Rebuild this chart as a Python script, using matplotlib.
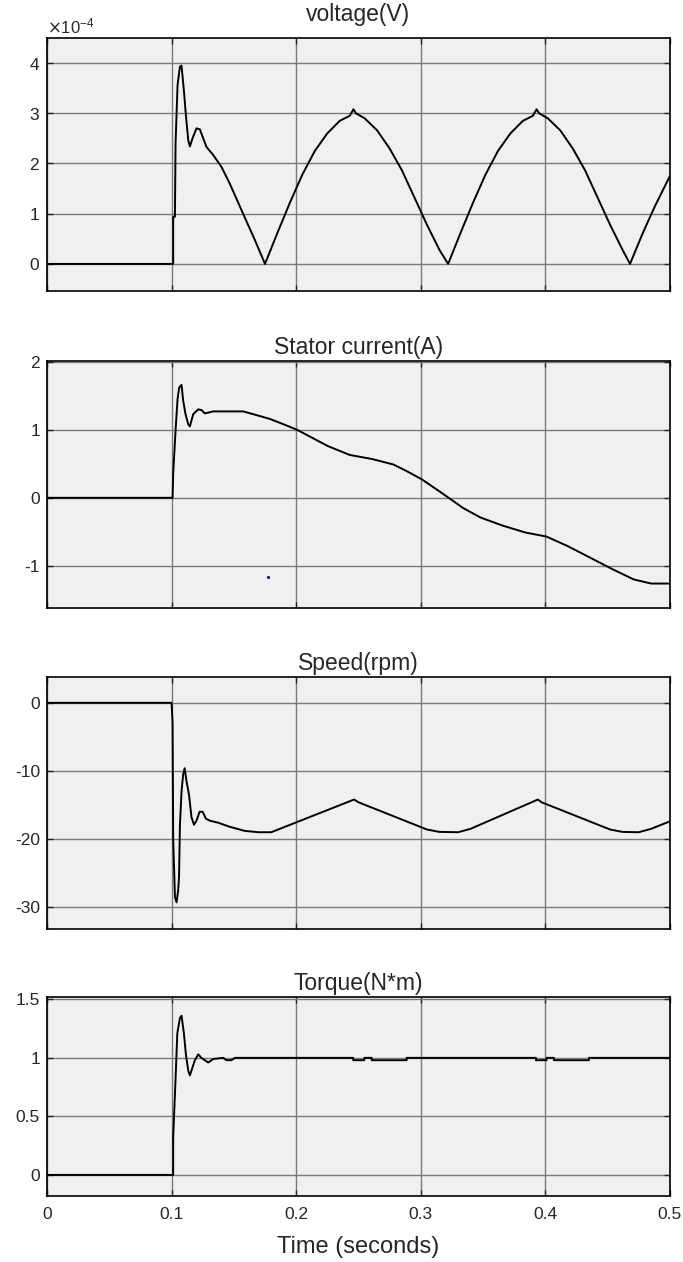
import matplotlib
matplotlib.use('Agg')
import matplotlib.pyplot as plt
from matplotlib.ticker import FuncFormatter, ScalarFormatter

plt.rcParams['font.family'] = ['Liberation Sans', 'DejaVu Sans']
plt.rcParams['axes.unicode_minus'] = False

# voltage, in units of 1e-4 V
t_volt = [0, 0.1013, 0.1013, 0.1027, 0.1032, 0.1048, 0.1067, 0.1080, 0.1099, 0.1115,
          0.1134, 0.1147, 0.1168, 0.1200, 0.1227, 0.1280, 0.1334, 0.1401, 0.1467,
          0.1574, 0.1668, 0.1750,
          0.185, 0.195, 0.205, 0.215, 0.225, 0.235, 0.243, 0.246, 0.248, 0.255,
          0.265, 0.275, 0.285, 0.295, 0.305, 0.315, 0.322,
          0.332, 0.342, 0.352, 0.362, 0.372, 0.382, 0.390, 0.393, 0.395, 0.402,
          0.412, 0.422, 0.432, 0.442, 0.452, 0.462, 0.468,
          0.478, 0.488, 0.5]
volt = [0, 0, 0.94, 0.94, 2.4, 3.56, 3.93, 3.95, 3.45, 2.96,
        2.46, 2.34, 2.5, 2.7, 2.68, 2.33, 2.17, 1.93, 1.6,
        1.0, 0.48, 0,
        0.62, 1.22, 1.78, 2.25, 2.6, 2.85, 2.95, 3.08, 3.0, 2.9,
        2.66, 2.3, 1.86, 1.32, 0.78, 0.28, 0,
        0.62, 1.22, 1.78, 2.25, 2.6, 2.85, 2.95, 3.08, 3.0, 2.9,
        2.66, 2.3, 1.86, 1.32, 0.78, 0.28, 0,
        0.6, 1.15, 1.75]

# stator current (A)
t_cur = [0, 0.1008, 0.1013, 0.1032, 0.1048, 0.1061, 0.1080, 0.1093, 0.1112, 0.1134,
         0.1147, 0.1174, 0.1214, 0.1240, 0.1267, 0.1334, 0.1574, 0.1654, 0.1788,
         0.19, 0.2007, 0.2255, 0.243, 0.261, 0.278, 0.289, 0.301, 0.313, 0.324,
         0.334, 0.348, 0.366, 0.384, 0.401, 0.418, 0.436, 0.454, 0.471, 0.485, 0.5]
cur = [0, 0, 0.35, 0.99, 1.45, 1.62, 1.66, 1.43, 1.23, 1.08,
       1.05, 1.23, 1.3, 1.29, 1.24, 1.27, 1.27, 1.23, 1.16,
       1.08, 1.0, 0.76, 0.63, 0.57, 0.49, 0.39, 0.27, 0.12, -0.02,
       -0.15, -0.29, -0.41, -0.51, -0.57, -0.71, -0.88, -1.05, -1.2, -1.26, -1.26]
dot_t = [0.1774]
dot_cur = [-1.16]

# speed (rpm)
t_spd = [0, 0.1, 0.1008, 0.1013, 0.1027, 0.1040, 0.1053, 0.1060, 0.1067, 0.1080,
         0.1093, 0.1105, 0.1120, 0.1140, 0.1160, 0.1180, 0.1200, 0.1225, 0.1250,
         0.1275, 0.1307, 0.1374, 0.1467, 0.1587, 0.17, 0.18,
         0.2465, 0.25, 0.305, 0.315, 0.33, 0.34,
         0.394, 0.397, 0.452, 0.462, 0.475, 0.485, 0.5]
spd = [0, 0, -2.9, -20, -28.5, -29.3, -27.5, -25.5, -18, -13,
       -10.5, -9.6, -11.5, -13.5, -16.8, -17.9, -17.3, -16.0, -16.0,
       -17.0, -17.3, -17.6, -18.2, -18.8, -19.0, -19.0,
       -14.2, -14.6, -18.6, -18.95, -19.0, -18.5,
       -14.2, -14.6, -18.6, -18.95, -19.0, -18.5, -17.4]

# torque (N*m)
t_trq = [0, 0.1013, 0.1013, 0.1032, 0.1046, 0.1067, 0.1080, 0.1099, 0.1115, 0.1134,
         0.1147, 0.1187, 0.1214, 0.1240, 0.1294, 0.1334, 0.1414, 0.1441, 0.1481,
         0.1508, 0.2458, 0.2458, 0.2547, 0.2547, 0.2606, 0.2606, 0.2887, 0.2887,
         0.3925, 0.3925, 0.401, 0.401, 0.4069, 0.4069, 0.435, 0.435, 0.5]
trq = [0, 0, 0.32, 0.82, 1.21, 1.34, 1.36, 1.21, 1.03, 0.89,
       0.85, 0.98, 1.03, 1.0, 0.96, 0.99, 1.0, 0.98, 0.98,
       1.0, 1.0, 0.98, 0.98, 1.0, 1.0, 0.98, 0.98, 1.0,
       1.0, 0.98, 0.98, 1.0, 1.0, 0.98, 0.98, 1.0, 1.0]

titles = ['voltage(V)', 'Stator current(A)', 'Speed(rpm)', 'Torque(N*m)']
xticks = [0, 0.1, 0.2, 0.3, 0.4, 0.5]

fig = plt.figure(figsize=(6.83, 12.62), dpi=100)
pos = [[0.0688, 0.7694, 0.912, 0.2005],
       [0.0688, 0.5182, 0.912, 0.1957],
       [0.0688, 0.2639, 0.912, 0.1997],
       [0.0688, 0.0523, 0.912, 0.1577]]
axs = [fig.add_axes(p) for p in pos]

axs[0].plot(t_volt, [v * 1e-4 for v in volt], color='black', lw=1.4)
axs[1].plot(t_cur, cur, color='black', lw=1.4)
axs[1].plot(dot_t, dot_cur, '.', color='blue', ms=2.5)
axs[2].plot(t_spd, spd, color='black', lw=1.4)
axs[3].plot(t_trq, trq, color='black', lw=1.4)

fmt = FuncFormatter(lambda v, p: '%g' % v)
ylims = [(-0.54e-4, 4.5e-4), (-1.62, 2.01), (-33.2, 3.8), (-0.18, 1.52)]
yticks = [[0, 1e-4, 2e-4, 3e-4, 4e-4], [-1, 0, 1, 2], [-30, -20, -10, 0], [0, 0.5, 1, 1.5]]

for i, ax in enumerate(axs):
    ax.set_facecolor('#f0f0f0')
    ax.set_xlim(0, 0.5)
    ax.set_ylim(*ylims[i])
    ax.set_xticks(xticks)
    ax.set_yticks(yticks[i])
    ax.grid(True, color='#7a7a7a', lw=1.0)
    ax.set_axisbelow(True)
    ax.tick_params(direction='in', top=True, right=True, length=4, width=1,
                   labelsize=12.5, colors='#262626', pad=5)
    ax.tick_params(axis='x', pad=8)
    for s in ax.spines.values():
        s.set_color('black')
        s.set_linewidth(1.2)
    ax.set_title(titles[i], fontsize=16.5, color='#262626', pad=12 if i == 0 else 5)
    if i == 0:
        sf = ScalarFormatter(useMathText=True)
        sf.set_powerlimits((0, 0))
        ax.yaxis.set_major_formatter(sf)
        ax.yaxis.get_offset_text().set_fontsize(12)
        ax.yaxis.get_offset_text().set_color('#262626')
    else:
        ax.yaxis.set_major_formatter(fmt)
    if i < 3:
        ax.set_xticklabels([])
    else:
        ax.xaxis.set_major_formatter(fmt)

axs[3].set_xlabel('Time (seconds)', fontsize=17, color='#262626', labelpad=10)

fig.savefig('out.png', dpi=100)
